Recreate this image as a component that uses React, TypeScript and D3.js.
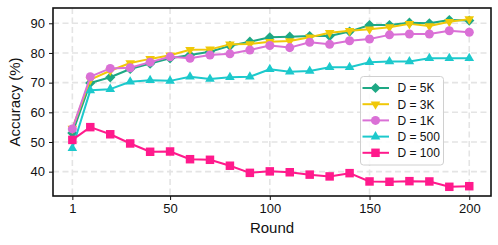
import * as d3 from 'd3'
import { useEffect, useRef } from 'react'

const rounds = [1, 10, 20, 30, 40, 50, 60, 70, 80, 90, 100, 110, 120, 130, 140, 150, 160, 170, 180, 190, 200]

const acc5K = [53.0, 69.9, 71.8, 74.6, 76.4, 78.2, 79.3, 80.4, 82.4, 83.8, 85.3, 85.5, 85.7, 85.7, 87.2, 89.4, 89.4, 90.2, 90.0, 91.1, 90.9]
const acc3K = [54.5, 71.0, 74.0, 76.6, 78.0, 79.2, 81.1, 81.2, 82.9, 83.0, 83.8, 84.0, 85.3, 86.8, 87.5, 88.0, 88.7, 89.8, 89.1, 90.5, 91.4]
const acc1K = [54.4, 72.0, 74.8, 75.0, 76.9, 78.7, 78.2, 79.3, 79.7, 81.0, 82.5, 81.8, 83.6, 82.9, 84.1, 84.7, 86.1, 86.4, 86.4, 87.5, 87.0]
const acc500 = [47.9, 67.4, 67.8, 70.3, 70.8, 70.6, 72.0, 71.2, 71.8, 72.0, 74.5, 73.7, 73.9, 75.2, 75.2, 76.9, 77.1, 77.1, 78.2, 78.2, 78.2]
const acc100 = [50.7, 55.0, 52.6, 49.5, 46.7, 46.8, 44.2, 44.0, 42.0, 39.6, 40.1, 39.8, 39.0, 38.4, 39.5, 36.7, 36.6, 36.8, 36.7, 34.9, 35.1]

const seriesLabels = ['D = 5K', 'D = 3K', 'D = 1K', 'D = 500', 'D = 100']
const seriesValues = [acc5K, acc3K, acc1K, acc500, acc100]
const seriesColors = ['#1ea884', '#f0c808', '#da70d6', '#1cc9cc', '#ff1a8c']
const seriesMarkers = ['diamond', 'down', 'circle', 'up', 'square']

const xTicks = [1, 50, 100, 150, 200]
const yTicks = [40, 50, 60, 70, 80, 90]

const font = '"Liberation Sans", Arial, sans-serif'

function markerPath(kind: string) {
  if (kind === 'diamond') return d3.symbol(d3.symbolSquare, 52)()
  if (kind === 'circle') return d3.symbol(d3.symbolCircle, 64)()
  if (kind === 'square') return d3.symbol(d3.symbolSquare, 72)()
  return d3.symbol(d3.symbolTriangle, 40)()
}

function markerRotate(kind: string) {
  if (kind === 'diamond') return 45
  if (kind === 'down') return 180
  return 0
}

export default function App() {
  const ref = useRef<SVGSVGElement>(null)

  useEffect(() => {
    if (!ref.current) return
    const svg = d3.select(ref.current)
    svg.selectAll('*').remove()

    const width = 498
    const height = 245
    const margin = { top: 8, right: 7, bottom: 49, left: 53 }

    const x = d3
      .scaleLinear()
      .domain([-8.7, 210.9])
      .range([margin.left, width - margin.right])
    const y = d3
      .scaleLinear()
      .domain([31.8, 95.15])
      .range([height - margin.bottom, margin.top])

    // Grid
    const grid = svg.append('g')
    grid
      .selectAll('.gx')
      .data(xTicks)
      .enter()
      .append('line')
      .attr('x1', d => x(d))
      .attr('x2', d => x(d))
      .attr('y1', margin.top)
      .attr('y2', height - margin.bottom)
    grid
      .selectAll('.gy')
      .data(yTicks)
      .enter()
      .append('line')
      .attr('x1', margin.left)
      .attr('x2', width - margin.right)
      .attr('y1', d => y(d))
      .attr('y2', d => y(d))
    grid
      .selectAll('line')
      .attr('stroke', '#e4e4e4')
      .attr('stroke-width', 1.6)
      .attr('stroke-dasharray', '6,3.5')

    // Lines and markers
    const line = d3
      .line<number>()
      .x((_, i) => x(rounds[i]))
      .y(d => y(d))

    seriesValues.forEach((vals, s) => {
      const g = svg.append('g')
      g.append('path')
        .datum(vals)
        .attr('fill', 'none')
        .attr('stroke', seriesColors[s])
        .attr('stroke-width', 2)
        .attr('stroke-linejoin', 'round')
        .attr('d', line)
      g.selectAll('path.m')
        .data(vals)
        .enter()
        .append('path')
        .attr('class', 'm')
        .attr('d', markerPath(seriesMarkers[s]))
        .attr(
          'transform',
          (d, i) => `translate(${x(rounds[i])},${y(d)}) rotate(${markerRotate(seriesMarkers[s])})`
        )
        .attr('fill', seriesColors[s])
    })

    // Frame
    svg
      .append('rect')
      .attr('x', margin.left)
      .attr('y', margin.top)
      .attr('width', width - margin.left - margin.right)
      .attr('height', height - margin.top - margin.bottom)
      .attr('fill', 'none')
      .attr('stroke', '#111')
      .attr('stroke-width', 1.6)

    // X axis
    const xAxis = svg
      .append('g')
      .attr('transform', `translate(0,${height - margin.bottom})`)
      .call(d3.axisBottom(x).tickValues(xTicks).tickSize(4).tickPadding(4))
    xAxis.select('.domain').remove()
    xAxis.selectAll('line').attr('stroke', '#111').attr('stroke-width', 1)
    xAxis
      .selectAll('text')
      .attr('fill', '#111')
      .style('font-family', font)
      .style('font-size', '13px')

    // Y axis
    const yAxis = svg
      .append('g')
      .attr('transform', `translate(${margin.left},0)`)
      .call(d3.axisLeft(y).tickValues(yTicks).tickSize(4).tickPadding(4))
    yAxis.select('.domain').remove()
    yAxis.selectAll('line').attr('stroke', '#111').attr('stroke-width', 1)
    yAxis
      .selectAll('text')
      .attr('fill', '#111')
      .style('font-family', font)
      .style('font-size', '13px')

    // Axis titles
    svg
      .append('text')
      .attr('x', (margin.left + width - margin.right) / 2)
      .attr('y', 233)
      .attr('text-anchor', 'middle')
      .style('font-family', font)
      .style('font-size', '15px')
      .attr('fill', '#111')
      .text('Round')

    svg
      .append('text')
      .attr('transform', `translate(20,${(margin.top + height - margin.bottom) / 2}) rotate(-90)`)
      .attr('text-anchor', 'middle')
      .style('font-family', font)
      .style('font-size', '15px')
      .attr('fill', '#111')
      .text('Accuracy (%)')

    // Legend
    const legend = svg.append('g').attr('transform', 'translate(360.5,76.5)')
    legend
      .append('rect')
      .attr('width', 83)
      .attr('height', 88.5)
      .attr('rx', 3)
      .attr('fill', 'white')
      .attr('fill-opacity', 0.85)
      .attr('stroke', '#d0d0d0')
      .attr('stroke-width', 1)

    seriesLabels.forEach((label, s) => {
      const row = legend.append('g').attr('transform', `translate(0,${11.5 + s * 16.2})`)
      row
        .append('line')
        .attr('x1', 2)
        .attr('x2', 28.5)
        .attr('stroke', seriesColors[s])
        .attr('stroke-width', 2)
      row
        .append('path')
        .attr('d', markerPath(seriesMarkers[s]))
        .attr('transform', `translate(15,0) rotate(${markerRotate(seriesMarkers[s])})`)
        .attr('fill', seriesColors[s])
      row
        .append('text')
        .attr('x', 37)
        .attr('dy', '0.36em')
        .style('font-family', font)
        .style('font-size', '12px')
        .attr('fill', '#111')
        .text(label)
    })
  }, [])

  return (
    <svg
      ref={ref}
      width={498}
      height={245}
      style={{ position: 'absolute', left: 0, top: 0, background: 'white' }}
    ></svg>
  )
}
